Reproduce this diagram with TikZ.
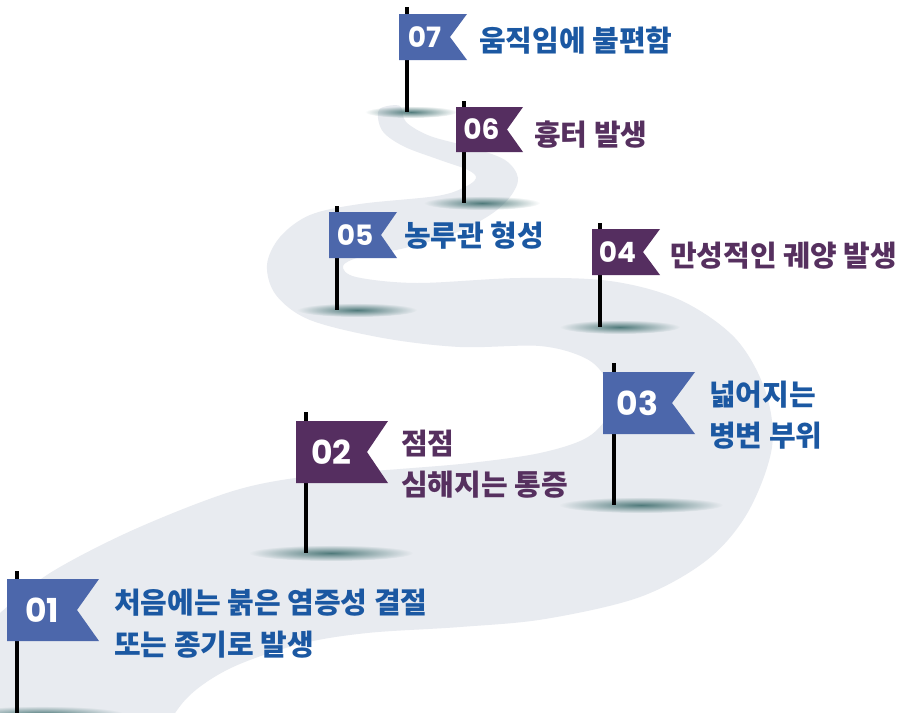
\documentclass[tikz,border=0pt]{standalone}
\usepackage{fontspec}
\newfontfamily\krfont{Noto Sans CJK KR}
\newfontfamily\numfont{Poppins}
\usetikzlibrary{fadings}
\definecolor{roadc}{HTML}{E8EBF0}
\definecolor{flagblue}{HTML}{4C67AB}
\definecolor{flagpurple}{HTML}{552E60}
\definecolor{txtblue}{HTML}{1B58A2}
\definecolor{txtpurple}{HTML}{56305F}
\definecolor{shadowc}{HTML}{3F6E6E}
\tikzfading[name=shfade, inner color=transparent!0, outer color=transparent!100]
\tikzset{
  pole/.style={line width=4pt, draw=black},
  thinpole/.style={line width=3.6pt, draw=black},
  numbig/.style={font=\numfont\bfseries\fontsize{33}{33}\selectfont, text=white, inner sep=0pt},
  numsmall/.style={font=\numfont\bfseries\fontsize{28}{28}\selectfont, text=white, inner sep=0pt},
  lbl/.style={font=\krfont\bfseries\fontsize{29}{32}\selectfont, inner sep=0pt, anchor=base west},
  shadowblob/.style={fill=shadowc, path fading=shfade, fill opacity=0.9},
}
\begin{document}
\begin{tikzpicture}[x=1pt,y=-1pt]
\useasboundingbox (0,0) rectangle (920,712);
\fill[white] (0,0) rectangle (920,712);
% road
\fill[roadc] plot[smooth cycle, tension=0.55] coordinates {
 (-40,650) (0,613) (50,573) (133,530) (233,491) (310,476) (400,469) (470,463)
 (540,453) (588,437) (610,410) (605,378) (585,358) (540,346) (460,347) (383,338)
 (310,320) (276,295) (267,265) (280,237) (310,215) (360,204) (437,196) (465,187)
 (476,178) (468,170) (440,160) (405,147) (384,133) (378,118) (381,108)
 (400,106) (406,122) (430,136) (470,147) (505,160) (518,178) (510,197) (490,215)
 (455,233) (405,248) (360,257) (343,266) (356,277) (417,283) (520,278) (610,281)
 (680,300) (735,338) (765,390) (772,447) (748,512) (707,560) (640,597) (545,619)
 (460,627) (367,633) (300,644) (233,667) (190,695) (165,730) (150,770) (-40,770)};
% shadows
\fill[shadowblob] (42,714) ellipse (82 and 8);
\fill[shadowblob] (331,553) ellipse (82 and 8);
\fill[shadowblob] (641,505) ellipse (82 and 8);
\fill[shadowblob] (620,327) ellipse (60 and 7);
\fill[shadowblob] (357,310) ellipse (60 and 7);
\fill[shadowblob] (482,203) ellipse (58 and 7);
\fill[shadowblob] (411,112) ellipse (46 and 6);
% flag 01
\draw[pole] (17,571) coordinate (p1t) -- (17,716) coordinate (p1b);
\fill[flagblue] (7,579) -- (99,579) -- (77,610) -- (99,641) -- (7,641) -- cycle;
\node[numbig] (n1) at (42,610) {01};
% flag 02
\draw[pole] (306,412) coordinate (p2t) -- (306,553) coordinate (p2b);
\fill[flagpurple] (296,421) -- (388,421) -- (367,452) -- (388,483) -- (296,483) -- cycle;
\node[numbig] (n2) at (331.5,452) {02};
% flag 03
\draw[pole] (613.5,363) coordinate (p3t) -- (613.5,505) coordinate (p3b);
\fill[flagblue] (603,372) -- (695,372) -- (672,403) -- (695,434) -- (603,434) -- cycle;
\node[numbig] (n3) at (637.5,403) {03};
% flag 04
\draw[thinpole] (600,223) coordinate (p4t) -- (600,327) coordinate (p4b);
\fill[flagpurple] (592,229) -- (660,229) -- (643,252) -- (660,275) -- (592,275) -- cycle;
\node[numsmall] (n4) at (617.5,252) {04};
% flag 05
\draw[thinpole] (337,206) coordinate (p5t) -- (337,310) coordinate (p5b);
\fill[flagblue] (329,212) -- (397,212) -- (381,235) -- (397,258) -- (329,258) -- cycle;
\node[numsmall] (n5) at (355,235) {05};
% flag 06
\draw[thinpole] (464,101) coordinate (p6t) -- (464,203) coordinate (p6b);
\fill[flagpurple] (456,107) -- (523,107) -- (507,129.5) -- (523,152) -- (456,152) -- cycle;
\node[numsmall] (n6) at (481.5,129.5) {06};
% flag 07
\draw[thinpole] (407,7) coordinate (p7t) -- (407,112) coordinate (p7b);
\fill[flagblue] (399,14) -- (467,14) -- (450,37) -- (467,60) -- (399,60) -- cycle;
\node[numsmall] (n7) at (424.5,37) {07};
% labels
\node[lbl, text=txtblue] (t1a) at (114,613) {처음에는 붉은 염증성 결절};
\node[lbl, text=txtblue] (t1b) at (114,655) {또는 종기로 발생};
\node[lbl, text=txtpurple] (t2a) at (401,454) {점점};
\node[lbl, text=txtpurple] (t2b) at (401,495) {심해지는 통증};
\node[lbl, text=txtblue] (t3a) at (709,405) {넓어지는};
\node[lbl, text=txtblue] (t3b) at (709,446) {병변 부위};
\node[lbl, text=txtpurple] (t4) at (670,266) {만성적인 궤양 발생};
\node[lbl, text=txtblue] (t5) at (404,246) {농루관 형성};
\node[lbl, text=txtpurple] (t6) at (534,145) {흉터 발생};
\node[lbl, text=txtblue] (t7) at (479,51) {움직임에 불편함};
\end{tikzpicture}
\end{document}
